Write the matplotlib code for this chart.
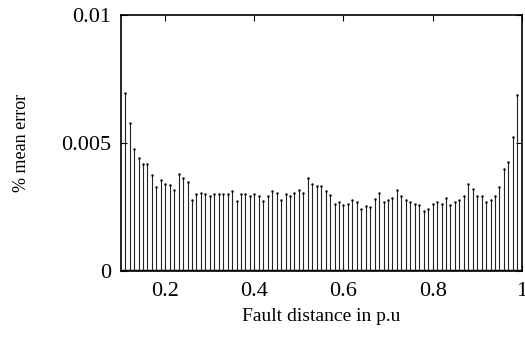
import numpy as np
import matplotlib
matplotlib.use('Agg')
import matplotlib.pyplot as plt

# fault distance (p.u) for each stem
dist = np.round(np.arange(0.11, 0.995, 0.01), 2)

# % mean error (x 1e-3)
err_a = [6.96, 5.77, 4.77, 4.42, 4.20, 4.20, 3.77, 3.28, 3.56, 3.42,
         3.35, 3.15, 3.79, 3.64, 3.47, 2.78, 3.02, 3.07, 3.00, 2.94,
         3.00, 3.00, 3.00, 3.00, 3.13, 2.72, 3.00, 3.00, 2.94, 3.00,
         2.94, 2.72, 2.94, 3.13, 3.07, 2.78, 3.00, 2.94, 3.07, 3.15,
         3.07, 3.64]
err_b = [3.40, 3.34, 3.34, 3.13, 2.99, 2.63, 2.70, 2.57, 2.63, 2.78,
         2.70, 2.43, 2.55, 2.50, 2.83, 3.07, 2.70, 2.78, 2.84, 3.18,
         2.92, 2.78, 2.70, 2.63, 2.57, 2.35, 2.43, 2.63, 2.70, 2.63,
         2.84, 2.57, 2.70, 2.78, 2.92, 3.40, 3.19, 2.92, 2.92, 2.70,
         2.78, 2.92, 3.27, 3.99, 4.27, 5.25, 6.87]
err = np.array(err_a + err_b) * 1e-3

xticks = [0.2, 0.4, 0.6, 0.8, 1.0]
xtick_labels = ['0.2', '0.4', '0.6', '0.8', '1']
yticks = [0, 0.005, 0.01]
ytick_labels = ['0', '0.005', '0.01']

plt.rcParams['font.family'] = ['Liberation Serif', 'DejaVu Serif']

fig = plt.figure(figsize=(5.25, 3.38), dpi=100)
ax = fig.add_axes([120.7/525, 1 - 271/338, 401/525, 255.7/338])

ax.vlines(dist, 0, err, color='#222222', lw=0.8)
ax.plot(dist, err, ls='none', marker='.', ms=1.5, color='black')
ax.axhline(0, color='black', lw=2.5)

ax.set_xlim(0.1, 1.0)
ax.set_ylim(0, 0.01)
ax.set_xticks(xticks)
ax.set_xticklabels(xtick_labels)
ax.set_yticks(yticks)
ax.set_yticklabels(ytick_labels)
ax.tick_params(direction='in', top=True, right=True, length=4, width=0.8,
               labelsize=16)
ax.tick_params(axis='x', pad=8)
ax.tick_params(axis='y', pad=7)
for s in ax.spines.values():
    s.set_linewidth(1.2)

ax.set_xlabel('Fault distance in p.u', fontsize=14, labelpad=5)
ax.set_ylabel('% mean error', fontsize=13, labelpad=22)

fig.savefig('out.png', dpi=100)
